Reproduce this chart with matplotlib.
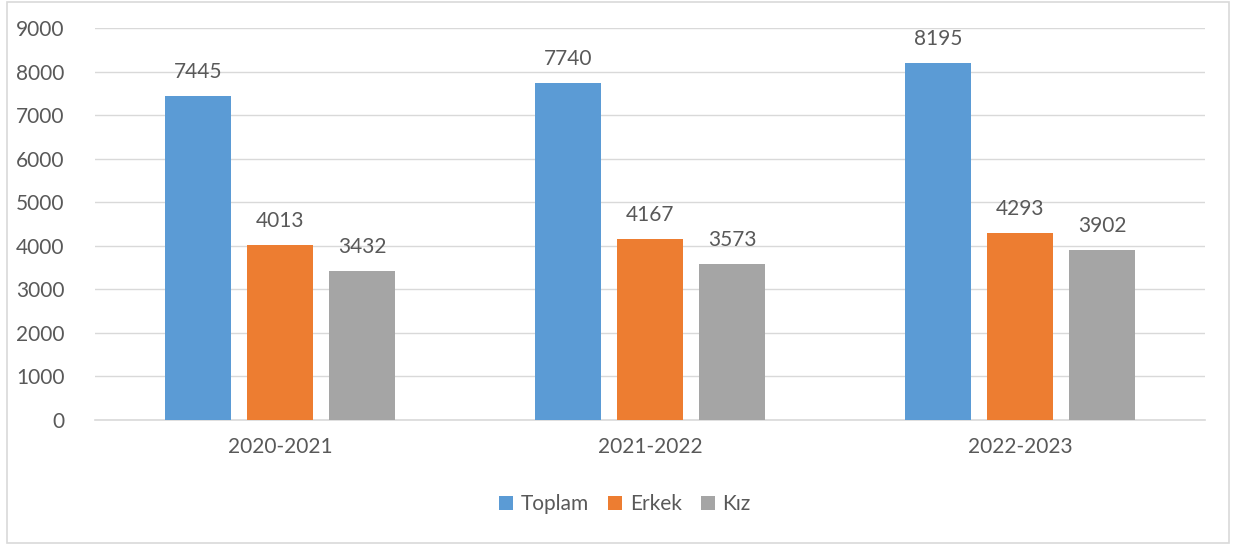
import matplotlib
matplotlib.use("Agg")
import matplotlib.pyplot as plt
import numpy as np
from matplotlib.patches import Rectangle

categories = ["2020-2021", "2021-2022", "2022-2023"]
series_names = ["Toplam", "Erkek", "Kız"]
toplam = [7445, 7740, 8195]
erkek = [4013, 4167, 4293]
kiz = [3432, 3573, 3902]
colors = ["#5B9BD5", "#ED7D31", "#A5A5A5"]
yticks = [0, 1000, 2000, 3000, 4000, 5000, 6000, 7000, 8000, 9000]

plt.rcParams['font.family'] = ['Lato', 'DejaVu Sans']
txt = "#595959"
fs = 15

fig = plt.figure(figsize=(12.34, 5.45), dpi=100)
ax = fig.add_axes([95/1234, (545-420)/545, 1110/1234, 392/545])

x = np.arange(len(categories))
width = 0.176
step = 0.2216
for i, (vals, name) in enumerate(zip([toplam, erkek, kiz], series_names)):
    pos = x + (i - 1) * step
    ax.bar(pos, vals, width=width, color=colors[i], label=name, zorder=3)
    for p, v in zip(pos, vals):
        ax.text(p, v + 320, str(v), ha="center", va="bottom", fontsize=fs, color=txt)

ax.set_xlim(-0.5, len(categories) - 0.5)
ax.set_ylim(0, 9000)
ax.set_yticks(yticks)
ax.set_xticks(x)
ax.set_xticklabels(categories)
ax.grid(axis="y", color="#D9D9D9", linewidth=1, zorder=0)
for s in ["top", "right", "left"]:
    ax.spines[s].set_visible(False)
ax.spines["bottom"].set_color("#D9D9D9")
ax.spines["bottom"].set_linewidth(1.2)
ax.tick_params(axis="both", length=0, labelsize=fs, labelcolor=txt)
ax.tick_params(axis="x", pad=12)
ax.tick_params(axis="y", pad=22)

leg = fig.legend(loc="center", bbox_to_anchor=(625/1234, 1 - 504/545), ncol=3, frameon=False,
                 fontsize=fs, handlelength=0.67, handleheight=0.67, handletextpad=0.35,
                 columnspacing=0.95)
for t in leg.get_texts():
    t.set_color(txt)

fig.patches.append(Rectangle((7/1234, 2/545), 1222/1234, 541/545, transform=fig.transFigure,
                             fill=False, edgecolor="#D9D9D9", linewidth=1.2))

fig.savefig("out.png", dpi=100)
